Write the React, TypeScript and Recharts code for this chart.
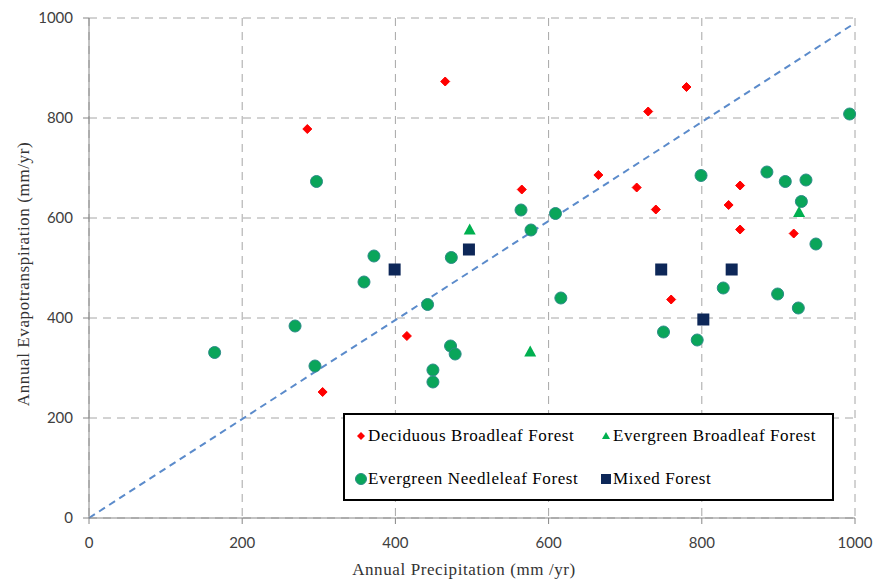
import React from "react";
import {
  ScatterChart,
  Scatter,
  XAxis,
  YAxis,
  CartesianGrid,
  ReferenceLine,
  Legend,
  Label,
} from "recharts";

// Annual precipitation (x) vs annual evapotranspiration (y), mm/yr
const deciduousPrecip = [285, 465, 780, 730, 565, 665, 715, 740, 850, 835, 850, 920, 760, 415, 305];
const deciduousET = [778, 873, 862, 813, 657, 686, 661, 617, 665, 626, 577, 569, 437, 364, 252];

const evBroadPrecip = [497, 576, 927];
const evBroadET = [577, 333, 612];

const needlePrecip = [
  297, 372, 359, 473, 442, 269, 164, 295, 472, 478, 449, 449, 564, 577, 609, 993, 799, 885, 909, 936, 930,
  949, 616, 828, 899, 926, 750, 794,
];
const needleET = [
  673, 524, 472, 521, 427, 384, 331, 304, 344, 328, 296, 272, 616, 576, 609, 808, 685, 692, 673, 676, 633,
  548, 440, 460, 448, 420, 372, 356,
];

const mixedPrecip = [399, 496, 747, 839, 802];
const mixedET = [497, 537, 497, 497, 397];

const axisTicks = [0, 200, 400, 600, 800, 1000];
const oneToOne = [
  { x: 0, y: 0 },
  { x: 1000, y: 990 },
];

const legendItems = [
  { name: "Deciduous Broadleaf Forest", kind: "diamond" },
  { name: "Evergreen Broadleaf Forest", kind: "triangle" },
  { name: "Evergreen Needleleaf Forest", kind: "circle" },
  { name: "Mixed Forest", kind: "square" },
];

const toPoints = (xs: number[], ys: number[]) => xs.map((x, i) => ({ x, y: ys[i] }));

const RED = "#FF0000";
const TRI = "#00B050";
const CIRC = "#0AA55A";
const CIRC_EDGE = "#2B8C87";
const NAVY = "#0D2758";
const SERIF = "'Liberation Serif', serif";

function Diamond({ cx, cy }: any) {
  const r = 4.5;
  return <polygon points={`${cx},${cy - r} ${cx + r},${cy} ${cx},${cy + r} ${cx - r},${cy}`} fill={RED} stroke={RED} strokeWidth={1} strokeLinejoin="round" />;
}

function Triangle({ cx, cy }: any) {
  return <polygon points={`${cx},${cy - 6} ${cx + 6},${cy + 5} ${cx - 6},${cy + 5}`} fill={TRI} />;
}

function Dot({ cx, cy }: any) {
  return <circle cx={cx} cy={cy} r={6} fill={CIRC} stroke={CIRC_EDGE} strokeWidth={1} />;
}

function Square({ cx, cy }: any) {
  return <rect x={cx - 6} y={cy - 6} width={12} height={12} fill={NAVY} />;
}

function LegendMark({ kind }: { kind: string }) {
  const c = 7;
  return (
    <svg width={14} height={14} style={{ marginRight: 0, flexShrink: 0 }}>
      {kind === "diamond" && <polygon points={`${c},${c - 4} ${c + 4},${c} ${c},${c + 4} ${c - 4},${c}`} fill={RED} />}
      {kind === "triangle" && <polygon points={`${c},${c - 4} ${c + 4},${c + 3} ${c - 4},${c + 3}`} fill={TRI} />}
      {kind === "circle" && <circle cx={c} cy={c} r={5.5} fill={CIRC} stroke={CIRC_EDGE} strokeWidth={1} />}
      {kind === "square" && <rect x={c - 5} y={c - 5} width={10} height={10} fill={NAVY} />}
    </svg>
  );
}

function LegendBox() {
  return (
    <div
      style={{
        boxSizing: "border-box",
        width: 491,
        height: 88,
        border: "2px solid #000",
        background: "#fff",
        display: "grid",
        gridTemplateColumns: "245px 230px",
        gridTemplateRows: "42px 44px",
        paddingLeft: 9,
        fontFamily: SERIF,
        fontSize: 17,
        letterSpacing: 0.6,
        color: "#000",
      }}
    >
      {legendItems.map(item => (
        <div key={item.name} style={{ display: "flex", alignItems: "center", whiteSpace: "nowrap" }}>
          <LegendMark kind={item.kind} />
          <span>{item.name}</span>
        </div>
      ))}
    </div>
  );
}

export default function App() {
  const tickStyle = { fontFamily: "Lato, sans-serif", fontSize: 15, fill: "#404040" };
  const titleStyle = { fontFamily: SERIF, fontSize: 17, letterSpacing: 0.6, fill: "#333", whiteSpace: "pre" };
  return (
    <div style={{ position: "absolute", left: 0, top: 0, width: 875, height: 580, background: "#fff" }}>
      <ScatterChart width={875} height={580} margin={{ top: 18, right: 20, bottom: 0, left: 0 }}>
        <CartesianGrid stroke="#A6A6A6" strokeDasharray="8 6" />
        <XAxis
          type="number"
          dataKey="x"
          domain={[0, 1000]}
          ticks={axisTicks}
          height={62}
          stroke="#868686"
          tickSize={6}
          tickMargin={13}
          tick={tickStyle}
        >
          <Label value="Annual Precipitation (mm /yr)" position="insideBottom" offset={5} dx={-8} style={titleStyle} />
        </XAxis>
        <YAxis
          type="number"
          dataKey="y"
          domain={[0, 1000]}
          ticks={axisTicks}
          width={89}
          stroke="#868686"
          tickSize={6}
          tickMargin={10}
          tick={tickStyle}
        >
          <Label
            value="Annual  Evapotranspiration (mm/yr)"
            angle={-90}
            position="center"
            dx={-22}
            dy={6}
            style={titleStyle}
          />
        </YAxis>
        <ReferenceLine segment={oneToOne} stroke="#5B8BCB" strokeWidth={2} strokeDasharray="7 5" />
        <Scatter name="Evergreen Needleleaf Forest" data={toPoints(needlePrecip, needleET)} shape={(p: any) => <Dot {...p} />} isAnimationActive={false} />
        <Scatter name="Evergreen Broadleaf Forest" data={toPoints(evBroadPrecip, evBroadET)} shape={(p: any) => <Triangle {...p} />} isAnimationActive={false} />
        <Scatter name="Mixed Forest" data={toPoints(mixedPrecip, mixedET)} shape={(p: any) => <Square {...p} />} isAnimationActive={false} />
        <Scatter name="Deciduous Broadleaf Forest" data={toPoints(deciduousPrecip, deciduousET)} shape={(p: any) => <Diamond {...p} />} isAnimationActive={false} />
        <Legend
          layout="vertical"
          align="center"
          verticalAlign="middle"
          content={() => <LegendBox />}
          wrapperStyle={{ position: "absolute", left: 343, top: 413, width: 491, height: 88 }}
        />
      </ScatterChart>
    </div>
  );
}
